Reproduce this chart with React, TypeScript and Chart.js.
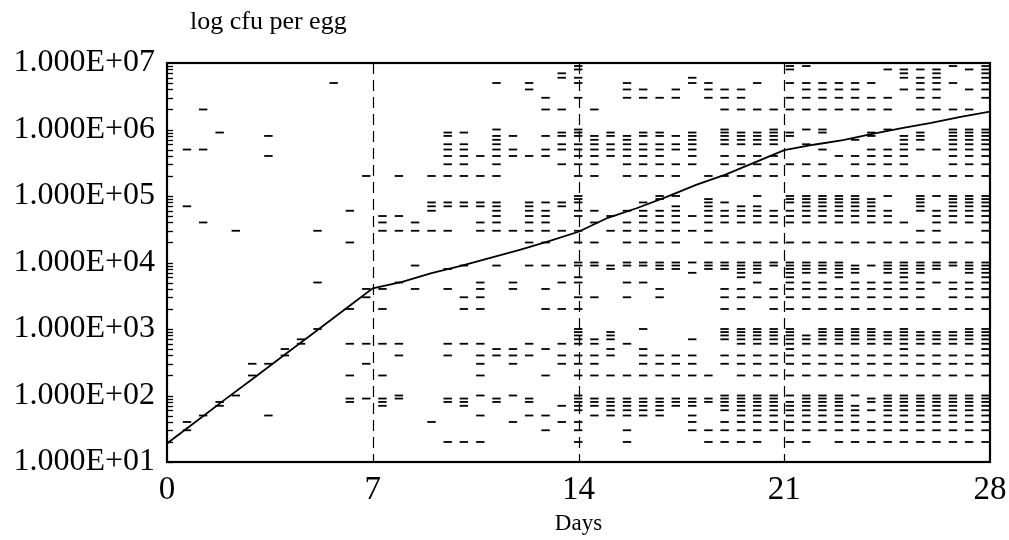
import React, { useEffect, useRef } from "react";
import { Chart, registerables } from "chart.js";

Chart.register(...registerables);

const FONT = '"Liberation Serif", "Times New Roman", serif';

const yAxisLabel = "log cfu per egg";
const xAxisLabel = "Days";
const xTickValues = [0, 7, 14, 21, 28];
const yTickValues = [1e1, 1e2, 1e3, 1e4, 1e5, 1e6, 1e7];

// solid mean curve
const lineDays = [0, 1, 2, 3, 4, 5, 6, 7, 8, 9, 10, 11, 12, 13, 14, 15, 16, 17, 18, 19, 20, 21, 22, 23, 24, 25, 26, 27, 28];
const lineValues = [19, 41, 89, 190, 410, 880, 1900, 4100, 5100, 6900, 8900, 11700, 15500, 21000, 29000, 47000, 66000, 97000, 147000, 210000, 320000, 490000, 590000, 690000, 860000, 1050000, 1260000, 1550000, 1860000];

// columns of individual egg counts (horizontal dash marks)
const dashDays = [0.68, 1.23, 1.79, 2.34, 2.9, 3.45, 4.01, 4.56, 5.12, 5.67, 6.22, 6.78, 7.33, 7.89, 8.44, 9.0, 9.55, 10.1, 10.66, 11.21, 11.77, 12.32, 12.88, 13.43, 13.99, 14.54, 15.09, 15.65, 16.2, 16.76, 17.31, 17.87, 18.42, 18.97, 19.53, 20.08, 20.64, 21.19, 21.75, 22.3, 22.86, 23.41, 23.96, 24.52, 25.07, 25.63, 26.18, 26.74, 27.29, 27.85];
const dashValues: number[][] = [
  [5e5, 7e4, 40, 30],
  [2e6, 5e5, 4e4, 50],
  [9e5, 80, 70],
  [3e4, 100],
  [300, 200],
  [8e5, 4e5, 300, 50],
  [500, 400],
  [700, 600],
  [3e4, 5e3, 1e3],
  [5e6],
  [6e4, 2e4, 2e3, 600, 200, 90, 80],
  [2e5, 4e3, 3e3, 600, 300, 90],
  [5e4, 4e4, 3e4, 4e3, 2e3, 600, 200, 90, 80, 70],
  [2e5, 5e4, 3e4, 5e3, 600, 400, 100, 90],
  [4e4, 3e4, 9e3, 4e3],
  [2e5, 8e4, 7e4, 6e4, 3e4, 40],
  [9e5, 8e5, 6e5, 5e5, 4e5, 3e5, 2e5, 8e4, 7e4, 3e4, 8e3, 4e3, 600, 400, 90, 80, 20],
  [9e5, 6e5, 5e5, 4e5, 3e5, 2e5, 8e4, 7e4, 9e3, 3e3, 2e3, 600, 90, 80, 70, 20],
  [4e5, 2e5, 8e4, 7e4, 4e4, 3e4, 5e3, 4e3, 3e3, 2e3, 600, 400, 300, 200, 100, 50, 20],
  [1e7, 5e6, 1e6, 8e5, 7e5, 6e5, 5e5, 4e5, 3e5, 2e5, 8e4, 7e4, 6e4, 5e4, 4e4, 3e4, 9e3, 500, 400, 90, 80],
  [1e7, 8e5, 5e5, 4e5, 3e4, 5e3, 4e3, 500, 400, 300, 100, 40],
  [5e6, 4e6, 4e5, 8e4, 7e4, 6e4, 5e4, 4e4, 3e4, 2e4, 9e3, 600, 400, 90, 80, 50],
  [3e6, 2e6, 8e5, 5e5, 4e5, 8e4, 6e4, 5e4, 4e4, 3e4, 2e4, 9e3, 4e3, 2e3, 500, 200, 50, 30],
  [1e7, 7e6, 6e6, 2e6, 9e5, 8e5, 6e5, 5e5, 3e5, 8e4, 7e4, 3e4, 9e3, 5e3, 2e3, 600, 400, 300, 70, 40],
  [9e6, 8e6, 6e6, 5e6, 3e6, 1e6, 9e5, 8e5, 6e5, 5e5, 4e5, 3e5, 2e5, 1e5, 9e4, 8e4, 6e4, 5e4, 3e4, 2e4, 1e4, 9e3, 6e3, 5e3, 3e3, 2e3, 1e3, 900, 800, 700, 600, 400, 300, 200, 100, 90, 80, 70, 60, 40, 30, 20],
  [2e6, 8e5, 7e5, 6e5, 5e5, 4e5, 3e5, 2e5, 6e4, 4e4, 2e4, 1e4, 9e3, 3e3, 700, 600, 400, 300, 200, 90, 80, 70, 50],
  [9e5, 8e5, 6e5, 5e5, 4e5, 5e4, 3e4, 9e3, 8e3, 900, 800, 700, 500, 400, 200, 90, 80, 70, 60, 50],
  [1e7, 5e6, 4e6, 3e6, 8e5, 7e5, 6e5, 5e5, 4e5, 3e5, 2e5, 6e4, 4e4, 3e4, 2e4, 1e4, 9e3, 5e3, 3e3, 600, 200, 90, 80, 70, 60, 50, 30, 20],
  [4e6, 3e6, 9e5, 8e5, 6e5, 5e5, 4e5, 3e5, 2e5, 8e4, 6e4, 5e4, 4e4, 3e4, 2e4, 1e4, 9e3, 5e3, 1e3, 500, 400, 300, 200, 90, 80, 70, 60, 50],
  [3e6, 9e5, 8e5, 6e5, 5e5, 4e5, 3e5, 2e5, 1e5, 9e4, 6e4, 5e4, 4e4, 3e4, 2e4, 1e4, 9e3, 8e3, 4e3, 3e3, 400, 300, 200, 90, 80, 70, 60, 50],
  [4e6, 3e6, 8e5, 6e5, 5e5, 3e5, 2e5, 1e5, 7e4, 6e4, 5e4, 4e4, 3e4, 2e4, 1e4, 9e3, 8e3, 400, 300, 200, 90, 80, 70],
  [6e6, 5e6, 9e5, 8e5, 7e5, 6e5, 5e5, 4e5, 3e5, 5e4, 3e4, 1e4, 7e3, 700, 400, 300, 200, 90, 80, 70, 50, 40, 30],
  [5e6, 4e6, 3e6, 2e5, 9e4, 8e4, 7e4, 6e4, 5e4, 4e4, 3e4, 2e4, 1e4, 9e3, 8e3, 200, 90, 80, 30, 20],
  [4e6, 3e6, 2e6, 1e6, 9e5, 8e5, 7e5, 6e5, 4e5, 3e5, 2e5, 8e4, 6e4, 5e4, 4e4, 2e4, 1e4, 9e3, 8e3, 4e3, 3e3, 2e3, 1e3, 900, 800, 700, 400, 300, 100, 90, 80, 70, 60, 40, 30, 20],
  [4e6, 3e6, 2e6, 9e5, 8e5, 7e5, 6e5, 4e5, 3e5, 2e5, 7e4, 6e4, 5e4, 4e4, 2e4, 1e4, 9e3, 8e3, 7e3, 6e3, 4e3, 3e3, 2e3, 1e3, 900, 800, 700, 600, 400, 300, 200, 100, 90, 80, 70, 60, 50, 40, 30, 20],
  [5e6, 2e6, 9e5, 8e5, 7e5, 6e5, 4e5, 3e5, 2e5, 1e5, 7e4, 6e4, 5e4, 4e4, 2e4, 1e4, 9e3, 8e3, 7e3, 5e3, 3e3, 1e3, 900, 800, 700, 600, 400, 300, 200, 100, 90, 80, 70, 60, 50, 40, 30, 20],
  [2e6, 1e6, 9e5, 8e5, 7e5, 6e5, 4e5, 3e5, 2e5, 6e4, 5e4, 4e4, 2e4, 1e4, 9e3, 4e3, 3e3, 2e3, 1e3, 900, 800, 700, 600, 400, 300, 200, 100, 90, 80, 70, 60, 50, 40, 30],
  [1e7, 9e6, 8e6, 5e6, 3e6, 2e6, 9e5, 8e5, 3e5, 1e5, 9e4, 8e4, 6e4, 5e4, 4e4, 2e4, 1e4, 9e3, 8e3, 7e3, 6e3, 5e3, 4e3, 3e3, 2e3, 1e3, 900, 800, 700, 600, 500, 400, 300, 200, 100, 80, 70, 60, 50, 40, 30, 20],
  [9e6, 5e6, 4e6, 3e6, 2e6, 1e6, 6e5, 3e5, 2e5, 1e5, 9e4, 8e4, 7e4, 6e4, 5e4, 4e4, 2e4, 1e4, 9e3, 8e3, 7e3, 5e3, 4e3, 3e3, 2e3, 800, 700, 600, 400, 300, 200, 100, 90, 80, 70, 60, 50, 40, 30, 20],
  [5e6, 4e6, 3e6, 2e6, 1e6, 9e5, 5e5, 3e5, 2e5, 1e5, 9e4, 8e4, 7e4, 6e4, 5e4, 4e4, 2e4, 1e4, 9e3, 8e3, 7e3, 5e3, 4e3, 3e3, 2e3, 1e3, 900, 800, 700, 600, 400, 300, 200, 100, 90, 80, 70, 60, 50, 40, 30],
  [5e6, 4e6, 3e6, 2e6, 4e5, 2e5, 1e5, 9e4, 8e4, 7e4, 6e4, 5e4, 4e4, 2e4, 1e4, 9e3, 8e3, 7e3, 6e3, 4e3, 3e3, 2e3, 1e3, 900, 800, 700, 600, 400, 300, 200, 100, 90, 80, 70, 60, 50, 40, 30, 20],
  [5e6, 4e6, 3e6, 2e6, 7e5, 4e5, 3e5, 2e5, 1e5, 9e4, 8e4, 7e4, 6e4, 5e4, 4e4, 2e4, 9e3, 8e3, 7e3, 5e3, 4e3, 3e3, 2e3, 1e3, 900, 800, 700, 600, 400, 300, 200, 100, 70, 60, 50, 40, 30, 20],
  [5e6, 3e6, 2e6, 9e5, 8e5, 5e5, 4e5, 3e5, 2e5, 9e4, 8e4, 7e4, 6e4, 5e4, 4e4, 2e4, 9e3, 5e3, 4e3, 3e3, 2e3, 1e3, 900, 800, 700, 600, 400, 300, 200, 90, 80, 60, 40, 30, 20],
  [8e6, 3e6, 2e6, 1e6, 5e5, 4e5, 3e5, 2e5, 1e5, 6e4, 5e4, 4e4, 2e4, 1e4, 9e3, 8e3, 7e3, 5e3, 4e3, 3e3, 2e3, 900, 800, 700, 600, 400, 300, 200, 100, 90, 80, 70, 60, 50, 40, 30, 20],
  [8e6, 7e6, 6e6, 4e6, 8e5, 7e5, 6e5, 5e5, 4e5, 3e5, 2e5, 4e4, 2e4, 1e4, 9e3, 8e3, 7e3, 6e3, 5e3, 4e3, 3e3, 2e3, 1e3, 900, 800, 700, 600, 500, 400, 300, 200, 100, 90, 80, 70, 60, 50, 40, 30, 20],
  [8e6, 6e6, 5e6, 4e6, 3e6, 2e6, 9e5, 8e5, 7e5, 5e5, 2e5, 1e5, 9e4, 8e4, 7e4, 6e4, 3e4, 2e4, 1e4, 9e3, 8e3, 7e3, 5e3, 4e3, 3e3, 2e3, 900, 800, 700, 600, 400, 300, 200, 100, 90, 80, 70, 60, 50, 40, 30, 20],
  [8e6, 7e6, 6e6, 5e6, 4e6, 3e6, 2e6, 5e5, 2e5, 1e5, 6e4, 5e4, 4e4, 3e4, 2e4, 1e4, 9e3, 8e3, 5e3, 2e3, 900, 800, 700, 600, 400, 300, 200, 100, 90, 80, 70, 60, 50, 40, 30, 20],
  [9e6, 5e6, 2e6, 1e6, 9e5, 8e5, 7e5, 6e5, 5e5, 4e5, 3e5, 2e5, 1e5, 9e4, 8e4, 7e4, 6e4, 5e4, 4e4, 2e4, 1e4, 9e3, 5e3, 4e3, 3e3, 2e3, 900, 800, 700, 600, 400, 300, 200, 100, 90, 80, 70, 60, 50, 40, 30, 20],
  [8e6, 4e6, 2e6, 1e6, 9e5, 8e5, 7e5, 6e5, 5e5, 4e5, 3e5, 2e5, 1e5, 9e4, 8e4, 7e4, 6e4, 5e4, 4e4, 2e4, 1e4, 9e3, 8e3, 7e3, 5e3, 4e3, 3e3, 2e3, 1e3, 900, 800, 700, 600, 400, 300, 200, 100, 90, 80, 70, 60, 50, 40, 30, 20],
  [1e7, 9e6, 8e6, 7e6, 6e6, 5e6, 4e6, 3e6, 1e6, 9e5, 8e5, 7e5, 6e5, 5e5, 4e5, 3e5, 2e5, 1e5, 9e4, 8e4, 7e4, 6e4, 5e4, 4e4, 3e4, 2e4, 1e4, 9e3, 8e3, 7e3, 6e3, 5e3, 4e3, 3e3, 2e3, 1e3, 900, 800, 700, 600, 500, 400, 300, 200, 100, 90, 80, 70, 60, 50, 40, 30, 20],
];

const minorMantissas = [1, 2, 3, 4, 5, 6, 7, 8, 9];

function formatExp(v: number): string {
  const e = Math.round(Math.log10(v));
  const m = v / Math.pow(10, e);
  return m.toFixed(3) + "E+" + String(e).padStart(2, "0");
}

const framePlugin = {
  id: "frame",
  beforeDatasetsDraw(chart: any) {
    const { ctx, chartArea: a, scales } = chart;
    const xs = scales.x;
    ctx.save();
    ctx.strokeStyle = "#000";
    ctx.lineWidth = 1.2;
    ctx.setLineDash([11, 6]);
    for (const t of xs.ticks) {
      if (t.value <= xs.min || t.value >= xs.max) continue;
      const px = Math.round(xs.getPixelForValue(t.value)) + 0.5;
      ctx.beginPath();
      ctx.moveTo(px, a.top);
      ctx.lineTo(px, a.bottom);
      ctx.stroke();
    }
    ctx.restore();
  },
  afterDatasetsDraw(chart: any) {
    const { ctx, chartArea: a, scales } = chart;
    const ys = scales.y;
    ctx.save();
    ctx.strokeStyle = "#000";
    ctx.lineWidth = 1.3;
    ctx.setLineDash([]);
    for (let k = 1; k < 7; k++) {
      for (const m of minorMantissas) {
        const v = m * Math.pow(10, k);
        if (v > ys.max) continue;
        const py = Math.round(ys.getPixelForValue(v)) + 0.5;
        ctx.beginPath();
        ctx.moveTo(a.left, py);
        ctx.lineTo(a.left + 6, py);
        ctx.stroke();
      }
    }
    ctx.lineWidth = 2.2;
    ctx.strokeRect(a.left, a.top, a.right - a.left, a.bottom - a.top);
    ctx.fillStyle = "#000";
    ctx.font = "26px " + FONT;
    ctx.textAlign = "left";
    ctx.textBaseline = "middle";
    ctx.fillText(yAxisLabel, 190, 22);
    ctx.restore();
  },
};

export default function App() {
  const ref = useRef<HTMLCanvasElement | null>(null);

  useEffect(() => {
    if (!ref.current) return;
    const linePts = lineDays.map((d, i) => ({ x: d, y: lineValues[i] }));
    const dashPts = dashDays.flatMap((d, i) => dashValues[i].map((v) => ({ x: d, y: v })));
    const chart = new Chart(ref.current, {
      type: "scatter",
      data: {
        datasets: [
          {
            type: "line",
            data: linePts,
            borderColor: "#000",
            borderWidth: 1.8,
            pointRadius: 0,
            tension: 0,
            fill: false,
          } as any,
          {
            type: "scatter",
            data: dashPts,
            pointStyle: "line",
            pointRadius: 4.2,
            pointBorderWidth: 1.8,
            borderColor: "#000",
            backgroundColor: "#000",
            clip: false,
          } as any,
        ],
      },
      options: {
        animation: false,
        responsive: false,
        maintainAspectRatio: false,
        layout: { padding: { top: 63, right: 19, left: 0, bottom: 0 } },
        plugins: {
          legend: { display: false },
          tooltip: { enabled: false },
          title: { display: false },
        },
        scales: {
          x: {
            type: "linear",
            min: 0,
            max: 28,
            afterBuildTicks: (s: any) => {
              s.ticks = xTickValues.map((v) => ({ value: v }));
            },
            afterFit: (s: any) => {
              s.height = 78;
              s.paddingLeft = 0;
              s.paddingRight = 0;
            },
            grid: { display: false, drawTicks: false },
            border: { display: false },
            ticks: {
              color: "#000",
              font: { family: FONT, size: 33 },
              padding: 9,
              maxRotation: 0,
              autoSkip: false,
              callback: (v: any) => String(v),
            },
            title: {
              display: true,
              text: xAxisLabel,
              color: "#000",
              font: { family: FONT, size: 23 },
              padding: { top: 0, bottom: 2 },
            },
          },
          y: {
            type: "logarithmic",
            min: 10,
            max: 1e7,
            afterBuildTicks: (s: any) => {
              s.ticks = yTickValues.map((v) => ({ value: v }));
            },
            afterFit: (s: any) => {
              s.width = 167;
              s.paddingTop = 0;
              s.paddingBottom = 0;
            },
            grid: { display: false, drawTicks: false },
            border: { display: false },
            ticks: {
              color: "#000",
              font: { family: FONT, size: 32 },
              padding: 12,
              autoSkip: false,
              callback: (v: any) => formatExp(Number(v)),
            },
          },
        },
      },
      plugins: [framePlugin],
    });
    return () => chart.destroy();
  }, []);

  return (
    <div style={{ position: "absolute", left: 0, top: 0, width: 1009, height: 540, background: "#fff" }}>
      <canvas ref={ref} width={1009} height={540} style={{ display: "block" }} />
    </div>
  );
}
